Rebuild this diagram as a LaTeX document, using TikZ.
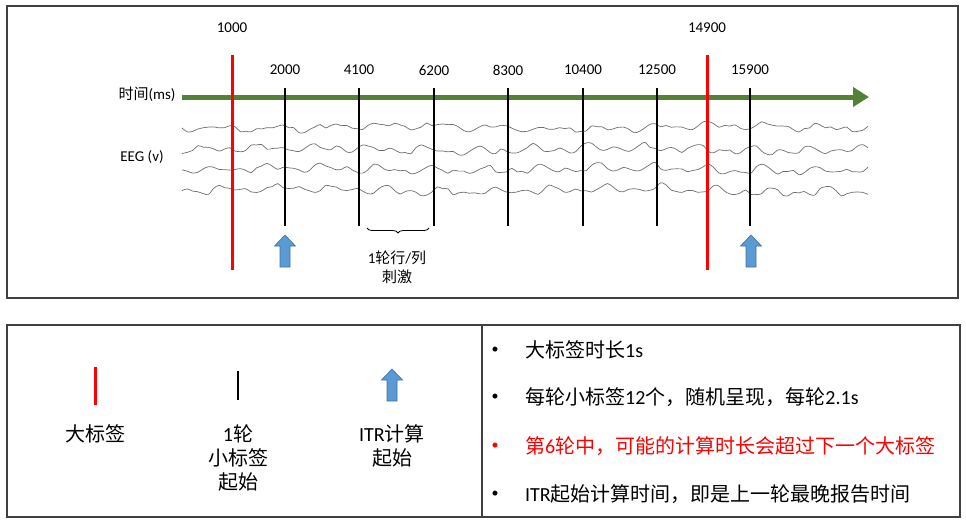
\documentclass[tikz,border=0pt]{standalone}
\usepackage{fontspec}
\setmainfont{Carlito}
\newfontfamily\cjk{Noto Sans CJK SC}
\usetikzlibrary{positioning, arrows.meta, decorations.pathreplacing}
\definecolor{axisgreen}{HTML}{548235}
\definecolor{itrblue}{HTML}{5B9BD5}
\definecolor{itrborder}{HTML}{41719C}
\definecolor{panelgray}{HTML}{404040}
\definecolor{eeggray}{HTML}{6E6E6E}

\tikzset{
  panel/.style={draw=panelgray, line width=1.3pt},
  bigmark/.style={draw=red, line width=3pt},
  smallmark/.style={draw=black, line width=2.2pt},
  trace/.style={draw=eeggray, line width=0.7pt},
  ticklabel/.style={font=\fontsize{15}{17}\selectfont, inner sep=1pt},
  legendtext/.style={font=\fontsize{20}{24}\selectfont, align=center, inner sep=1pt},
  notetext/.style={font=\fontsize{20}{24}\selectfont, anchor=west, inner sep=0pt},
  itrarrow/.pic={
    \filldraw[fill=itrblue, draw=itrborder, line width=0.6pt]
      (0,0) -- (10.5,11) -- (5,11) -- (5,32) -- (-5,32) -- (-5,11) -- (-10.5,11) -- cycle;
  }
}

\begin{document}
\begin{tikzpicture}[x=1pt, y=-1pt]
  \useasboundingbox (0,0) rectangle (966,528);

  % upper panel: time line with EEG
  \draw[panel] (7,6) rectangle (958,298);

  \foreach \ybase/\sd in {129/3, 151/5, 171/11, 192/17} {
    \pgfmathsetseed{\sd}
    \draw[trace] plot[smooth, tension=0.6, domain=182:868, samples=130]
      (\x, {\ybase + 1.6*rand + 2.2*sin(13*\x + 40*\sd) - 4.5*abs(sin(3.3*\x + 25*\sd))^4 + 1.6*sin(1.1*\x + 60*\sd)});
  }

  \coordinate (tstart) at (182,97);
  \coordinate (tend) at (869,97);
  \draw[axisgreen, line width=5pt, -{Triangle[length=16pt, width=19pt]}] (tstart) -- (tend);

  \node[ticklabel] (timelbl) at (147,94) {{\cjk 时间}(ms)};
  \node[ticklabel] (eeglbl) at (142,157) {EEG (v)};

  % big markers
  \foreach \xx/\lab in {232/1000, 707/14900} {
    \draw[bigmark] (\xx,55) -- (\xx,270);
    \node[ticklabel] (big\lab) at (\xx,28) {\lab};
  }

  % small markers
  \foreach \xx/\lab in {285/2000, 359/4100, 434/6200, 508/8300, 583/10400, 657/12500, 750/15900} {
    \draw[smallmark] (\xx,88) -- (\xx,226);
    \node[ticklabel] (tick\lab) at (\xx,70) {\lab};
  }

  \coordinate (bracel) at (367,228);
  \coordinate (bracer) at (429,228);
  \draw[decorate, decoration={brace, mirror, amplitude=5pt}, line width=0.8pt] (bracel) -- (bracer);
  \node[ticklabel, align=center, font=\fontsize{15}{19}\selectfont] (stimlbl) at (397,267) {1{\cjk 轮行}/{\cjk 列}\\{\cjk 刺激}};

  \pic at (285,235) {itrarrow};
  \pic at (751,235) {itrarrow};

  % lower panel: legend and notes
  \draw[panel] (7,325) rectangle (960,517);
  \draw[panel] (482,325) -- (482,517);

  \draw[bigmark] (95,367) -- (95,405);
  \draw[smallmark, line width=1.8pt] (238,371) -- (238,400);
  \pic at (392,369) {itrarrow};

  \node[legendtext] (lgbig) at (95,434) {\cjk 大标签};
  \node[legendtext] (lgsmall) at (238,458) {1{\cjk 轮}\\{\cjk 小标签}\\{\cjk 起始}};
  \node[legendtext] (lgitr) at (392,446) {ITR{\cjk 计算}\\{\cjk 起始}};

  \node[font=\fontsize{14}{16}\selectfont] (dot1) at (495,350) {\textbullet};
  \node[font=\fontsize{14}{16}\selectfont] (dot2) at (495,397) {\textbullet};
  \node[font=\fontsize{14}{16}\selectfont, text=red] (dot3) at (495,446) {\textbullet};
  \node[font=\fontsize{14}{16}\selectfont] (dot4) at (495,494) {\textbullet};

  \node[notetext] (note1) at (525,350) {{\cjk 大标签时长}1s};
  \node[notetext] (note2) at (525,397) {{\cjk 每轮小标签}12{\cjk 个，随机呈现，每轮}2.1s};
  \node[notetext, text=red] (note3) at (525,446) {{\cjk 第}6{\cjk 轮中，可能的计算时长会超过下一个大标签}};
  \node[notetext] (note4) at (525,494) {ITR{\cjk 起始计算时间，即是上一轮最晚报告时间}};
\end{tikzpicture}
\end{document}
